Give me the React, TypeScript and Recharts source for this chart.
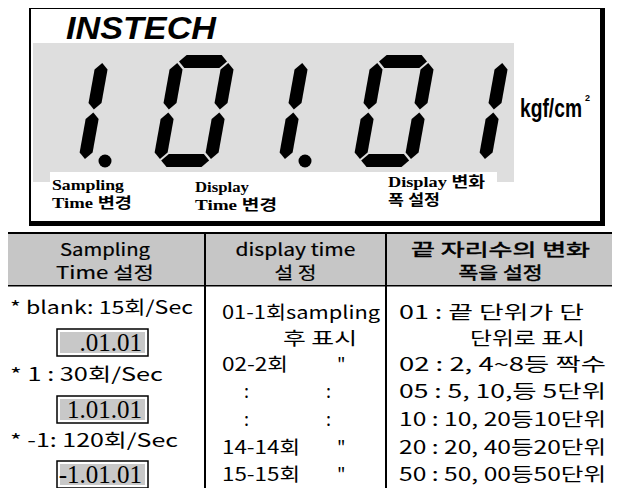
import React from "react";
import { Surface, Layer, Polygon, Rectangle, Dot } from "recharts";

// LCD readout
const DISPLAY_GLYPHS = ["1", "0", "1", "0", "1"];
const DISPLAY_DOTS = [true, false, true, false, false];
const SEGMENT_MAP: Record<string, string> = { "0": "abcdef", "1": "bc" };
const UNIT = "kgf/cm";

const LCD_LABELS = [
  { x: 52, lines: ["Sampling", "Time 변경"], y: [190, 208], w: [72, 80] },
  { x: 195, lines: ["Display", "Time 변경"], y: [192, 210], w: [54, 82] },
  { x: 388, lines: ["Display 변화", "폭 설정"], y: [187, 205], w: [97, 52] },
];

// table text
const HEADERS = [
  ["Sampling", "Time 설정"],
  ["display time", "설 정"],
  ["끝 자리수의 변화", "폭을 설정"],
];
const HEADER_W = [
  [90, 98],
  [120, 42],
  [179, 84],
];
const SAMPLING_ROWS = ["* blank: 15회/Sec", "* 1 : 30회/Sec", "* -1: 120회/Sec"];
const SAMPLING_W = [183, 153, 168];
const SAMPLING_SAMPLES = [".01.01", "1.01.01", "-1.01.01"];
const DISPLAY_TIME_ROWS: [string, string][] = [
  ["01-1회sampling", ""],
  ["후 표시", ""],
  ["02-2회", "\""],
  [":", ":"],
  [":", ":"],
  ["14-14회", "\""],
  ["15-15회", "\""],
];
const DISPLAY_TIME_W = [158, 74, 66, 0, 0, 78, 78];
const STEP_ROWS = [
  "01 : 끝 단위가 단",
  "단위로 표시",
  "02 : 2, 4~8등 짝수",
  "05 : 5, 10,등 5단위",
  "10 : 10, 20등10단위",
  "20 : 20, 40등20단위",
  "50 : 50, 00등50단위",
];
const STEP_W = [185, 115, 207, 207, 207, 207, 207];

const W = 620;
const H = 496;
const SANS = "'Noto Sans CJK KR', 'Noto Sans', sans-serif";
const SERIF = "'Liberation Serif', 'DejaVu Serif', 'Noto Sans CJK KR', serif";

// seven segment geometry
const CELL_W = 64;
const CELL_H = 112;
const THICK = 13;
const GAP = 1.5;
const SKEW = 0.18;
const BASE_Y = 167;

const segPoints = (seg: string, x0: number) => {
  const h2 = THICK / 2;
  const horiz = (c: number, u1: number, u2: number) => [
    [u1, c], [u1 + h2, c + h2], [u2 - h2, c + h2], [u2, c], [u2 - h2, c - h2], [u1 + h2, c - h2],
  ];
  const vert = (c: number, v1: number, v2: number) => [
    [c, v1], [c + h2, v1 + h2], [c + h2, v2 - h2], [c, v2], [c - h2, v2 - h2], [c - h2, v1 + h2],
  ];
  const uL = h2, uR = CELL_W - h2, vB = h2, vM = CELL_H / 2, vT = CELL_H - h2;
  let pts: number[][] = [];
  if (seg === "a") pts = horiz(vT, uL + GAP, uR - GAP);
  if (seg === "g") pts = horiz(vM, uL + GAP, uR - GAP);
  if (seg === "d") pts = horiz(vB, uL + GAP, uR - GAP);
  if (seg === "b") pts = vert(uR, vM + GAP, vT - GAP);
  if (seg === "c") pts = vert(uR, vB + GAP, vM - GAP);
  if (seg === "f") pts = vert(uL, vM + GAP, vT - GAP);
  if (seg === "e") pts = vert(uL, vB + GAP, vM - GAP);
  return pts.map(([u, v]) => ({ x: x0 + u + SKEW * v, y: BASE_Y - v }));
};

const cellX = (i: number) => 152 + (i - 1) * 100 - (DISPLAY_GLYPHS[i] === "1" ? 26 : 0);

const COL_X = [5, 205, 386, 615];
const FRAME_TOP = 3;
const HEAD_TOP = 233;
const HEAD_BOT = 286;
const COL3_Y = [319, 345, 371, 398, 426, 454, 481];
const COL2_Y = COL3_Y;
const COL1_Y = [314, 381, 447];
const BOX_Y = [329, 396, 461];

const App = () => {
  return (
    <div style={{ width: W, height: H, margin: -8 }}>
      <Surface width={W} height={H} viewBox={{ x: 0, y: 0, width: W, height: H }}>
        {/* LCD panel */}
        <Layer>
          <Rectangle x={33} y={43} width={481} height={139} fill="#dedede" />
          <Rectangle x={50} y={172} width={447} height={46} fill="#fff" />
          <Rectangle x={29} y={7} width={2} height={218} fill="#000" />
          <Rectangle x={29} y={7} width={574} height={2} fill="#000" />
          <Rectangle x={600} y={7} width={5} height={219} fill="#000" />
          <Rectangle x={29} y={221} width={576} height={5} fill="#000" />
          <text
            x={66}
            y={39}
            fontFamily="'Liberation Sans', Arial, sans-serif"
            fontWeight="bold"
            fontStyle="italic"
            fontSize={31}
            textLength={150}
            lengthAdjust="spacingAndGlyphs"
            fill="#000"
          >
            INSTECH
          </text>
          {DISPLAY_GLYPHS.map((g, i) =>
            SEGMENT_MAP[g].split("").map((s) => (
              <Polygon key={`${i}-${s}`} points={segPoints(s, cellX(i))} fill="#000" stroke="none" />
            ))
          )}
          {DISPLAY_DOTS.map((d, i) =>
            d ? <Dot key={`dot-${i}`} cx={cellX(i) + CELL_W + 15} cy={BASE_Y - 6} r={6.5} fill="#000" /> : null
          )}
          <text
            x={520}
            y={117}
            fontFamily="'Liberation Sans Narrow', 'Liberation Sans', sans-serif"
            fontWeight="bold"
            fontSize={25}
            textLength={62}
            lengthAdjust="spacingAndGlyphs"
            fill="#000"
          >
            {UNIT}
          </text>
          <text x={585} y={101} fontFamily="'Liberation Sans', sans-serif" fontWeight="bold" fontSize={9} fill="#000">
            2
          </text>
          {LCD_LABELS.map((l) =>
            l.lines.map((line, k) => (
              <text
                key={`${l.x}-${k}`}
                x={l.x}
                y={l.y[k]}
                fontFamily={SERIF}
                fontWeight="bold"
                fontSize={15}
                textLength={l.w[k]}
                lengthAdjust="spacingAndGlyphs"
                fill="#000"
              >
                {line}
              </text>
            ))
          )}
        </Layer>

        {/* table and outer frame */}
        <Layer>
          <Rectangle x={COL_X[0]} y={HEAD_TOP} width={COL_X[3] - COL_X[0]} height={HEAD_BOT - HEAD_TOP} fill="#c6c6c6" />
          <Rectangle x={COL_X[0] - 0.75} y={FRAME_TOP - 0.75} width={COL_X[3] - COL_X[0] + 1.5} height={2} fill="#000" />
          <Rectangle x={COL_X[0]} y={HEAD_TOP - 1} width={COL_X[3] - COL_X[0]} height={2} fill="#000" />
          <Rectangle x={COL_X[0]} y={HEAD_BOT - 1} width={COL_X[3] - COL_X[0]} height={1.5} fill="#000" />
          {COL_X.map((x, i) => {
            const top = i === 0 || i === 3 ? FRAME_TOP : HEAD_TOP;
            return <Rectangle key={`v-${i}`} x={x - 1} y={top} width={2} height={H - top} fill="#000" />;
          })}
          {HEADERS.map((lines, c) =>
            lines.map((line, k) => (
              <text
                key={`h-${c}-${k}`}
                x={(COL_X[c] + COL_X[c + 1]) / 2}
                y={[256, 279][k]}
                textAnchor="middle"
                fontFamily={SANS}
                fontSize={17}
                stroke="#000"
                strokeWidth={c === 2 ? 0.5 : 0.2}
                textLength={HEADER_W[c][k]}
                lengthAdjust="spacingAndGlyphs"
                fill="#000"
              >
                {line}
              </text>
            ))
          )}
          {SAMPLING_ROWS.map((r, i) => (
            <text
              key={`s-${i}`}
              x={10}
              y={COL1_Y[i]}
              fontFamily={SANS}
              fontSize={18}
              textLength={SAMPLING_W[i]}
              lengthAdjust="spacingAndGlyphs"
              fill="#000"
            >
              {r}
            </text>
          ))}
          {SAMPLING_SAMPLES.map((s, i) => (
            <g key={`b-${i}`}>
              <rect x={57} y={BOX_Y[i]} width={91} height={27} fill="#fff" stroke="#000" strokeWidth={1.5} />
              <Rectangle x={60} y={BOX_Y[i] + 3} width={85} height={21} fill="#c8c8c8" />
              <text
                x={142}
                y={BOX_Y[i] + 22}
                textAnchor="end"
                fontFamily={SERIF}
                fontSize={25}
                fill="#000"
              >
                {s}
              </text>
            </g>
          ))}
          {DISPLAY_TIME_ROWS.map(([a, b], i) => (
            <g key={`d-${i}`}>
              <text
                x={a === ":" ? 244 : i === 1 ? 283 : 222}
                y={COL2_Y[i]}
                fontFamily={SANS}
                fontSize={18}
                textLength={DISPLAY_TIME_W[i] || undefined}
                lengthAdjust="spacingAndGlyphs"
                fill="#000"
              >
                {a}
              </text>
              {b ? (
                <text x={b === ":" ? 326 : 337} y={COL2_Y[i]} fontFamily={SANS} fontSize={18} fill="#000">
                  {b}
                </text>
              ) : null}
            </g>
          ))}
          {STEP_ROWS.map((r, i) => (
            <text
              key={`st-${i}`}
              x={i === 1 ? 470 : 399}
              y={COL3_Y[i]}
              fontFamily={SANS}
              fontSize={18}
              textLength={STEP_W[i]}
              lengthAdjust="spacingAndGlyphs"
              fill="#000"
            >
              {r}
            </text>
          ))}
        </Layer>
      </Surface>
    </div>
  );
};

export default App;
